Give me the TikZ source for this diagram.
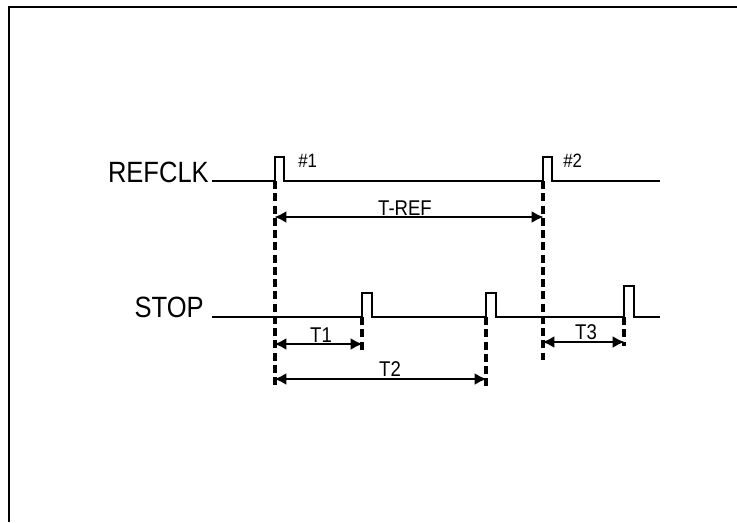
\documentclass[tikz,border=0pt]{standalone}
\usepackage{fontspec}
\setmainfont{Liberation Sans}[FakeStretch=0.87]
\usepackage{tikz}
\usetikzlibrary{arrows.meta}

\begin{document}
\begin{tikzpicture}[x=0.75pt, y=-0.75pt]

    \useasboundingbox (0,0) rectangle (737,522);

    % --- 1. Rahmen (nur oben und links sichtbar) ---
    \draw[line width=1.7pt] (737,7) -- (9,7) -- (9,522);

    % --- 2. Signalnamen ---
    \tikzset{signame/.style={font=\fontsize{22}{26}\selectfont, inner sep=0pt}}
    \node[signame, anchor=base east] (txt-refclk) at (209,182) {REFCLK};
    \node[signame, anchor=base east] (txt-stop) at (204,317) {STOP};

    % --- 3. Flanken (Bezugspunkte) ---
    \coordinate (ref1) at (275,181);
    \coordinate (ref2) at (543,181);
    \coordinate (stp1) at (362,317);
    \coordinate (stp2) at (486,317);
    \coordinate (stp3) at (624,317);

    % --- 4. Signalverlaeufe (Rechteckpulse) ---
    \tikzset{signal/.style={line width=1.8pt, line join=miter}}
    \draw[signal] (212,181) -- (ref1) -- ++(0,-24) -- ++(9,0) -- ++(0,24)
                -- (ref2) -- ++(0,-24) -- ++(9,0) -- ++(0,24) -- (660,181);
    \draw[signal] (212,317) -- (stp1) -- ++(0,-24) -- ++(10,0) -- ++(0,24)
                -- (stp2) -- ++(0,-24) -- ++(10,0) -- ++(0,24)
                -- (stp3) -- ++(0,-31) -- ++(10,0) -- ++(0,31) -- (660,317);

    % --- 5. Markierungslinien (gestrichelt) ---
    \tikzset{marke/.style={line width=2.4pt, dash pattern=on 6pt off 3.2pt}}
    \draw[marke] (ref1) -- ++(0,206);
    \draw[marke] (ref2) -- ++(0,179);
    \draw[marke] (stp1) -- ++(0,36);
    \draw[marke] (stp2) -- ++(0,71);
    \draw[marke] (stp3) -- ++(0,29);

    % --- 6. Zeitabstaende (Masspfeile) ---
    \tikzset{mass/.style={line width=1.8pt, {Latex[length=9pt,width=9pt]}-{Latex[length=9pt,width=9pt]}, shorten <=-0.5pt, shorten >=-0.5pt}}
    \draw[mass] (ref1 |- 0,217) -- (ref2 |- 0,217);
    \draw[mass] (ref1 |- 0,344) -- (stp1 |- 0,344);
    \draw[mass] (ref1 |- 0,379) -- (stp2 |- 0,379);
    \draw[mass] (ref2 |- 0,342) -- (stp3 |- 0,342);

    % --- 7. Beschriftungen ---
    \tikzset{zeit/.style={font=\fontsize{16}{18}\selectfont, inner sep=0pt, anchor=base}}
    \node[zeit] (txt-tref) at (405,215) {T-REF};
    \node[zeit] (txt-t1) at (321,342) {T1};
    \node[zeit] (txt-t2) at (390,376) {T2};
    \node[zeit] (txt-t3) at (586,339) {T3};

    \tikzset{puls/.style={font=\fontsize{14.5}{16}\selectfont, inner sep=0pt, anchor=base west}}
    \node[puls] (txt-p1) at (298,167) {\#1};
    \node[puls] (txt-p2) at (563,167) {\#2};

\end{tikzpicture}
\end{document}
